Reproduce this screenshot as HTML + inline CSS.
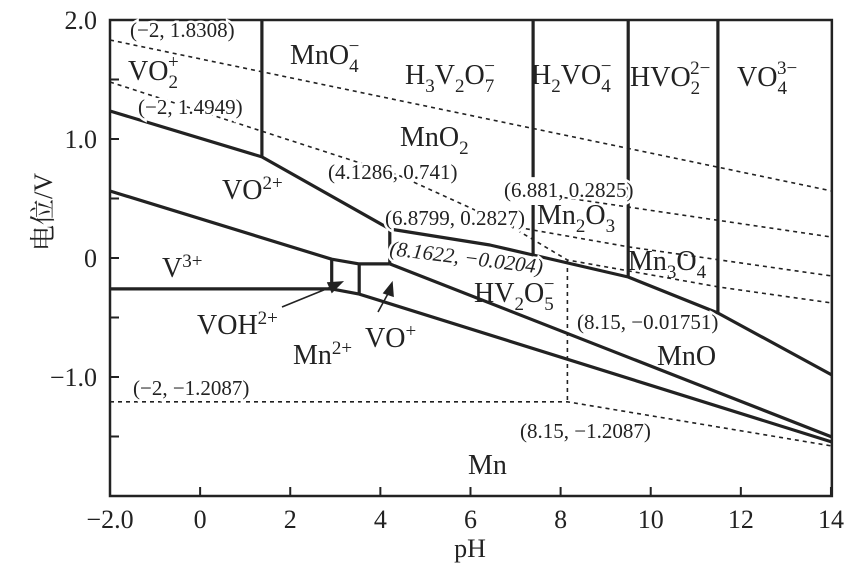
<!DOCTYPE html>
<html><head><meta charset="utf-8"><style>
html,body{margin:0;padding:0;background:#fff;}
svg{display:block;font-family:"Liberation Serif","Noto Serif CJK SC",serif;}
.sp{font-size:28px;fill:#222;}
.co{font-size:21px;fill:#222;stroke:#fff;stroke-width:5px;paint-order:stroke;}
.tk{font-size:26px;fill:#222;}
</style></head><body>
<svg id="chart" width="851" height="566" viewBox="0 0 851 566">
<g id="dashes"></g>
<g id="solids"></g>
<g id="axes"></g>
<g>
<text class="co" x="130" y="37">(−2, 1.8308)</text>
<text class="co" x="138" y="114">(−2, 1.4949)</text>
<text class="co" x="328" y="179">(4.1286, 0.741)</text>
<text class="co" x="504" y="197">(6.881, 0.2825)</text>
<text class="co" x="385" y="225">(6.8799, 0.2827)</text>
<text class="co" x="389" y="255" transform="rotate(7 389 255)" font-style="italic">(8.1622, −0.0204)</text>
<text class="co" x="577" y="329">(8.15, −0.01751)</text>
<text class="co" x="133" y="395">(−2, −1.2087)</text>
<text class="co" x="520" y="438">(8.15, −1.2087)</text>
</g>
<g>
<text class="sp" x="290" y="64">MnO<tspan dy="8" font-size="19">4</tspan><tspan dx="-10" dy="-20" font-size="19">−</tspan></text>
<text class="sp" x="128" y="80">VO<tspan dy="8" font-size="19">2</tspan><tspan dx="-10" dy="-20" font-size="19">+</tspan></text>
<text class="sp" x="405" y="84">H<tspan dy="8" font-size="19">3</tspan><tspan dy="-8">V</tspan><tspan dy="8" font-size="19">2</tspan><tspan dy="-8">O</tspan><tspan dy="8" font-size="19">7</tspan><tspan dx="-10" dy="-20" font-size="19">−</tspan></text>
<text class="sp" x="531" y="84">H<tspan dy="8" font-size="19">2</tspan><tspan dy="-8">VO</tspan><tspan dy="8" font-size="19">4</tspan><tspan dx="-10" dy="-20" font-size="19">−</tspan></text>
<text class="sp" x="630" y="86">HVO<tspan dy="8" font-size="19">2</tspan><tspan dx="-10" dy="-20" font-size="19">2−</tspan></text>
<text class="sp" x="737" y="86">VO<tspan dy="8" font-size="19">4</tspan><tspan dx="-10" dy="-20" font-size="19">3−</tspan></text>
<text class="sp" x="400" y="146">MnO<tspan dy="8" font-size="19">2</tspan></text>
<text class="sp" x="222" y="199">VO<tspan dy="-10" font-size="19">2+</tspan></text>
<text class="sp" x="537" y="224">Mn<tspan dy="8" font-size="19">2</tspan><tspan dy="-8">O</tspan><tspan dy="8" font-size="19">3</tspan></text>
<text class="sp" x="162" y="277">V<tspan dy="-10" font-size="19">3+</tspan></text>
<text class="sp" x="628" y="270">Mn<tspan dy="8" font-size="19">3</tspan><tspan dy="-8">O</tspan><tspan dy="8" font-size="19">4</tspan></text>
<text class="sp" x="474" y="302">HV<tspan dy="8" font-size="19">2</tspan><tspan dy="-8">O</tspan><tspan dy="8" font-size="19">5</tspan><tspan dx="-10" dy="-20" font-size="19">−</tspan></text>
<text class="sp" x="197" y="334">VOH<tspan dy="-10" font-size="19">2+</tspan></text>
<text class="sp" x="365" y="347">VO<tspan dy="-10" font-size="19">+</tspan></text>
<text class="sp" x="293" y="364">Mn<tspan dy="-10" font-size="19">2+</tspan></text>
<text class="sp" x="657" y="365">MnO</text>
<text class="sp" x="468" y="474">Mn</text>
</g>
<g stroke="#222" stroke-width="1.6" fill="#222">
<line x1="282" y1="307" x2="336" y2="285"/>
<polygon points="342,282 328,283 332,292"/>
<line x1="378" y1="312" x2="390" y2="290"/>
<polygon points="392,283 384,293 393,296"/>
</g>
<text class="tk" x="0" y="0" transform="translate(52 212) rotate(-90)" text-anchor="middle">电位/V</text>
<text class="tk" x="470" y="557" text-anchor="middle">pH</text>
</svg>
<script>
const xTicks = [-2, 0, 2, 4, 6, 8, 10, 12, 14];
const xTickLabels = ["−2.0", "0", "2", "4", "6", "8", "10", "12", "14"];
const yTicks = [2.0, 1.5, 1.0, 0.5, 0, -0.5, -1.0, -1.5, -2.0];
const yTickLabels = ["2.0", "", "1.0", "", "0", "", "−1.0", "", ""];
// solid boundary lines: [pH, E]
const solidVO2 = [[-2, 1.235], [1.37, 0.85], [4.21, 0.244], [6.43, 0.109], [7.39, 0.025], [9.50, -0.160], [11.49, -0.462], [14.02, -0.983]];
const solidV3 = [[-2, 0.563], [2.92, -0.01], [3.53, -0.05], [4.21, -0.05]];
const solidMn2 = [[-2, -0.26], [2.92, -0.26], [3.53, -0.303], [14.02, -1.546]];
const solidHV = [[4.21, -0.05], [14.02, -1.504]];
const solidV1 = [[1.37, 2.0], [1.37, 0.85]];
const solidV2a = [[7.39, 2.0], [7.39, 0.68]];
const solidV2b = [[7.39, 0.445], [7.39, 0.025]];
const solidV3v = [[9.50, 2.0], [9.50, -0.16]];
const solidV4 = [[11.49, 2.0], [11.49, -0.462]];
const solidV5 = [[4.21, 0.244], [4.21, -0.05]];
const solidV6 = [[2.92, -0.01], [2.92, -0.26]];
const solidV7 = [[3.53, -0.05], [3.53, -0.303]];
// dashed lines
const dash1 = [[-2, 1.832], [14.02, 0.563]];
const dash2 = [[-2, 1.479], [4.44, 0.689], [6.88, 0.269]];
const dash3 = [[7.54, 0.538], [14.02, 0.176]];
const dash4 = [[6.88, 0.269], [9.54, 0.092], [14.02, -0.151]];
const dash5 = [[6.88, 0.269], [8.15, -0.017], [11.51, -0.244], [14.02, -0.378]];
const dash6 = [[8.15, -0.017], [8.15, -1.2087]];
const dash7 = [[-2, -1.2087], [8.15, -1.2087], [14.02, -1.580]];

const NS = "http://www.w3.org/2000/svg";
function X(p){ return 110 + (p + 2) * 45.06; }
function Y(e){ return 258 - 119 * e; }
function poly(g, pts, name, dashed){
  const el = document.createElementNS(NS, "polyline");
  el.setAttribute("points", pts.map(p => X(p[0]).toFixed(1) + "," + Y(p[1]).toFixed(1)).join(" "));
  el.setAttribute("fill", "none");
  el.setAttribute("stroke", "#222");
  el.setAttribute("stroke-width", dashed ? "1.6" : "3.2");
  if (dashed) el.setAttribute("stroke-dasharray", "4 4");
  el.setAttribute("stroke-linejoin", "round");
  
  
  g.appendChild(el);
}
const gs = document.getElementById("solids");
const gd = document.getElementById("dashes");
[[solidVO2,"line-vo2-boundary"],[solidV3,"line-v3-boundary"],[solidMn2,"line-mn2-boundary"],[solidHV,"line-hv2o5-boundary"],
 [solidV1,"line-vertical-1"],[solidV2a,"line-vertical-2a"],[solidV2b,"line-vertical-2b"],[solidV3v,"line-vertical-3"],[solidV4,"line-vertical-4"],
 [solidV5,"line-vertical-5"],[solidV6,"line-vertical-6"],[solidV7,"line-vertical-7"]].forEach(a => poly(gs, a[0], a[1], false));
[[dash1,"dash-mno4-mno2"],[dash2,"dash-mno2-upper"],[dash3,"dash-mno2-mn2o3"],[dash4,"dash-mn2o3-mn3o4"],[dash5,"dash-mn3o4-mno"],[dash6,"dash-vertical"],[dash7,"dash-mn-lower"]]
 .forEach(a => poly(gd, a[0], a[1], true));

const ga = document.getElementById("axes");
const frame = document.createElementNS(NS, "rect");
frame.setAttribute("x", X(-2)); frame.setAttribute("y", Y(2));
frame.setAttribute("width", X(14.02) - X(-2)); frame.setAttribute("height", Y(-2) - Y(2));
frame.setAttribute("fill", "none"); frame.setAttribute("stroke", "#222"); frame.setAttribute("stroke-width", "2.5");


ga.appendChild(frame);
xTicks.forEach((v, i) => {
  const t = document.createElementNS(NS, "line");
  t.setAttribute("x1", X(v)); t.setAttribute("x2", X(v)); t.setAttribute("y1", Y(-2)); t.setAttribute("y2", Y(-2) - 9);
  t.setAttribute("stroke", "#222"); t.setAttribute("stroke-width", "2");
  
  
  ga.appendChild(t);
  const l = document.createElementNS(NS, "text");
  l.setAttribute("x", X(v)); l.setAttribute("y", 528); l.setAttribute("text-anchor", "middle"); l.setAttribute("class", "tk");
  l.textContent = xTickLabels[i];
  
  
  ga.appendChild(l);
});
yTicks.forEach((v, i) => {
  const t = document.createElementNS(NS, "line");
  t.setAttribute("x1", X(-2)); t.setAttribute("x2", X(-2) + 9); t.setAttribute("y1", Y(v)); t.setAttribute("y2", Y(v));
  t.setAttribute("stroke", "#222"); t.setAttribute("stroke-width", "2");
  
  
  ga.appendChild(t);
  if (yTickLabels[i]) {
    const l = document.createElementNS(NS, "text");
    l.setAttribute("x", 97); l.setAttribute("y", Y(v) + 9); l.setAttribute("text-anchor", "end"); l.setAttribute("class", "tk");
    l.textContent = yTickLabels[i];
    
    
    ga.appendChild(l);
  }
});
</script>
</body></html>
